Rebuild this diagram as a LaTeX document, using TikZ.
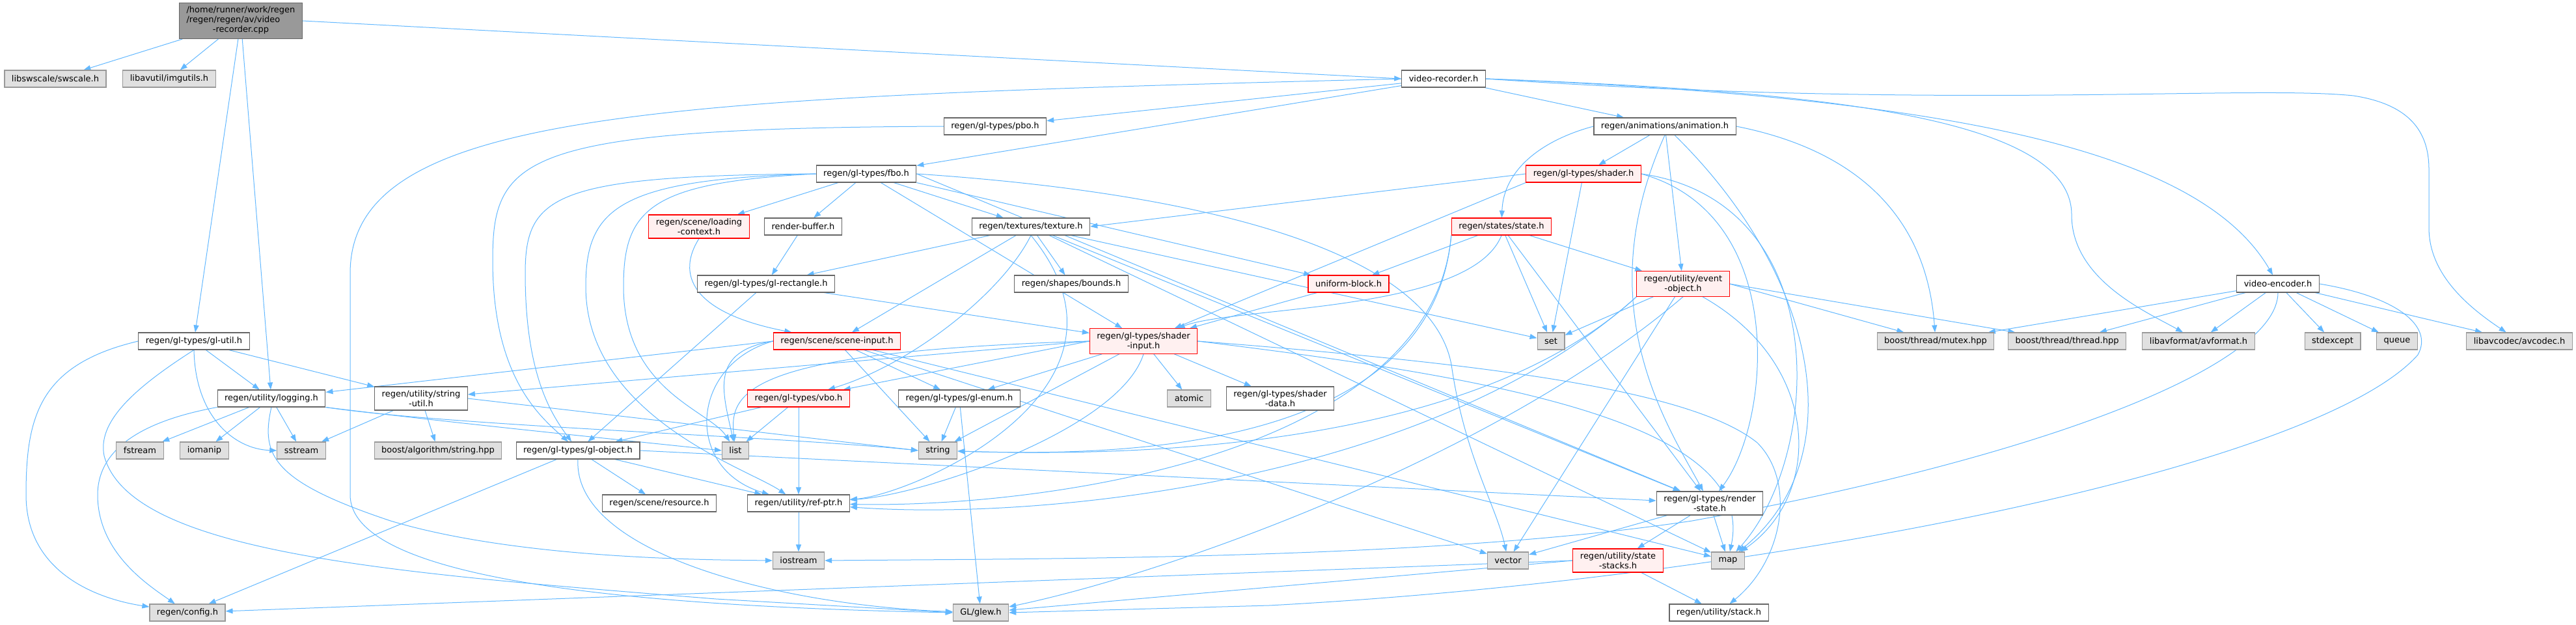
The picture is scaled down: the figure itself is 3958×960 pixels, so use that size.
\documentclass[tikz,border=0pt]{standalone}
\usepackage{fontspec}
\setmainfont{DejaVu Sans}
\usetikzlibrary{arrows.meta,backgrounds}
\definecolor{edgeblue}{HTML}{63B8FF}
\definecolor{docgray}{HTML}{666666}
\definecolor{extgray}{HTML}{999999}
\definecolor{extfill}{HTML}{E0E0E0}
\definecolor{truncfill}{HTML}{FFF0F0}
\definecolor{mainfill}{HTML}{999999}
\tikzset{
  filebox/.style={draw=docgray, fill=white, line width=1.1pt, inner xsep=11pt, inner ysep=5.5pt,
    minimum height=26pt, align=center, text=black, font=\fontsize{13}{15}\selectfont},
  hdr/.style={filebox},
  ext/.style={filebox, draw=extgray, fill=extfill},
  trunc/.style={filebox, draw=red, fill=truncfill},
  mainfile/.style={filebox, fill=mainfill, inner ysep=5pt},
  dep/.style={draw=edgeblue, line width=1pt, -{Triangle[length=11pt,width=8pt]}},
}
\begin{document}
\begin{tikzpicture}[x=1pt,y=-1pt]
\useasboundingbox (0,0) rectangle (3958,960);

% row 0 and 1
\node[mainfile] (main) at (370,32) {\begin{tabular}{@{}l@{}}/home/runner/work/regen\\/regen/regen/av/video\\\multicolumn{1}{@{}c@{}}{-recorder.cpp}\end{tabular}};
\node[ext] (swscale) at (85,121) {libswscale/swscale.h};
\node[ext] (imgutils) at (260,121) {libavutil/imgutils.h};
\node[hdr] (vrec) at (2218,121) {video-recorder.h};

% rows 2 to 5
\node[hdr] (pbo) at (1529,194) {regen/gl-types/pbo.h};
\node[hdr] (anim) at (2558,194) {regen/animations/animation.h};
\node[hdr] (fbo) at (1331,267) {regen/gl-types/fbo.h};
\node[trunc] (shader) at (2433,267) {regen/gl-types/shader.h};
\node[trunc] (loadctx) at (1074,348) {regen/scene/loading\\-context.h};
\node[hdr] (renderbuf) at (1234,348) {render-buffer.h};
\node[hdr] (texture) at (1584,348) {regen/textures/texture.h};
\node[trunc] (state) at (2307,348) {regen/states/state.h};
\node[hdr] (glrect) at (1177,436) {regen/gl-types/gl-rectangle.h};
\node[hdr] (bounds) at (1646,436) {regen/shapes/bounds.h};
\node[trunc] (uniblock) at (2072,436) {uniform-block.h};
\node[trunc] (eventobj) at (2586,436) {regen/utility/event\\-object.h};
\node[hdr] (venc) at (3500,436) {video-encoder.h};

% row 6
\node[hdr] (glutil) at (298,524) {regen/gl-types/gl-util.h};
\node[trunc] (sceneinput) at (1286,524) {regen/scene/scene-input.h};
\node[trunc] (shaderinput) at (1757,524) {regen/gl-types/shader\\-input.h};
\node[ext] (set) at (2383,524) {set};
\node[ext] (mutex) at (2974,524) {boost/thread/mutex.hpp};
\node[ext] (thread) at (3176,524) {boost/thread/thread.hpp};
\node[ext] (avformat) at (3378,524) {libavformat/avformat.h};
\node[ext] (stdexcept) at (3584,524) {stdexcept};
\node[ext] (queue) at (3683,524) {queue};
\node[ext] (avcodec) at (3871,524) {libavcodec/avcodec.h};

% rows 7 and 8
\node[hdr] (logging) at (417,612) {regen/utility/logging.h};
\node[hdr] (strutil) at (647,612) {regen/utility/string\\-util.h};
\node[trunc] (vbo) at (1227,612) {regen/gl-types/vbo.h};
\node[hdr] (glenum) at (1474,612) {regen/gl-types/gl-enum.h};
\node[ext] (atomic) at (1827,612) {atomic};
\node[hdr] (shaderdata) at (1967,612) {regen/gl-types/shader\\-data.h};
\node[ext] (fstream) at (215,692) {fstream};
\node[ext] (iomanip) at (314,692) {iomanip};
\node[ext] (sstream) at (463,692) {sstream};
\node[ext] (boostalg) at (673,692) {boost/algorithm/string.hpp};
\node[hdr] (globj) at (888,692) {regen/gl-types/gl-object.h};
\node[ext] (list) at (1130,692) {list};
\node[ext] (string) at (1441,692) {string};

% rows 9 to 11
\node[hdr] (resource) at (1013,773) {regen/scene/resource.h};
\node[hdr] (refptr) at (1227,773) {regen/utility/ref-ptr.h};
\node[hdr] (renderstate) at (2627,773) {regen/gl-types/render\\-state.h};
\node[ext] (iostream) at (1227,861) {iostream};
\node[ext] (vector) at (2317,861) {vector};
\node[trunc] (statestacks) at (2486,861) {regen/utility/state\\-stacks.h};
\node[ext] (map) at (2655,861) {map};
\node[ext] (config) at (288,941) {regen/config.h};
\node[ext] (glew) at (1507,941) {GL/glew.h};
\node[hdr] (stack) at (2641,941) {regen/utility/stack.h};

\begin{scope}[on background layer]
% video-recorder.cpp
\foreach \dst in {swscale,imgutils,glutil,logging} \draw[dep] (main) -- (\dst);
\draw[dep] (main.east) -- (vrec.west);

% video-recorder.h
\foreach \dst in {pbo,fbo,anim} \draw[dep] (vrec) -- (\dst);
\draw[dep] (vrec.west) .. controls (1000,150) and (538,170) .. (538,420) -- (538,760) .. controls (538,880) and (900,930) .. (glew.west);
\draw[dep] (vrec.east) .. controls (2800,140) and (3183,180) .. (3183,330) .. controls (3183,430) and (3300,480) .. (avformat);
\draw[dep] (vrec.east) .. controls (3000,150) and (3380,230) .. (venc);
\draw[dep] (vrec.east) .. controls (3000,170) and (3450,130) .. (3616,147) .. controls (3700,160) and (3732,200) .. (3732,260) -- (3732,350) .. controls (3732,420) and (3790,470) .. (avcodec);

% video-encoder.h
\foreach \dst in {mutex,thread,avformat,stdexcept,queue,avcodec} \draw[dep] (venc) -- (\dst);
\draw[dep] (venc.south) .. controls (3500,560) and (3150,700) .. (2600,800) .. controls (2200,860) and (1600,858) .. (iostream.east);
\draw[dep] (venc.east) .. controls (3680,455) and (3740,500) .. (3715,545) .. controls (3560,720) and (2700,890) .. (1950,930) -- (glew.east);

% gl-util.h, logging.h, string-util.h
\draw[dep] (glutil) -- (logging);
\draw[dep] (glutil) -- (strutil);
\draw[dep] (glutil.south) .. controls (300,640) and (360,690) .. (sstream.west);
\draw[dep] (glutil.west) .. controls (60,560) and (40,640) .. (40,760) .. controls (40,880) and (150,920) .. (config);
\draw[dep] (glutil.south) .. controls (200,600) and (150,650) .. (160,700) .. controls (200,850) and (600,880) .. (1100,920) -- (glew.west);
\foreach \dst in {fstream,iomanip,sstream} \draw[dep] (logging) -- (\dst);
\draw[dep] (logging.south west) .. controls (200,650) and (150,700) .. (150,760) .. controls (150,850) and (230,900) .. (config);
\draw[dep] (logging.south) .. controls (400,700) and (420,740) .. (600,800) .. controls (800,860) and (1100,860) .. (iostream.west);
\draw[dep] (logging.south east) .. controls (700,650) and (900,670) .. (list.west);
\draw[dep] (logging.south east) .. controls (700,655) and (1200,670) .. (string.west);
\draw[dep] (strutil) -- (sstream);
\draw[dep] (strutil) -- (boostalg);
\draw[dep] (strutil.east) -- (string.west);

% pbo.h, fbo.h
\draw[dep] (pbo.west) .. controls (800,197) and (757,240) .. (757,400) .. controls (757,580) and (830,640) .. (globj);
\foreach \dst in {loadctx,renderbuf,texture,shaderinput} \draw[dep] (fbo) -- (\dst);
\draw[dep] (fbo.south east) -- (uniblock);
\draw[dep] (fbo.east) -- (renderstate);
\draw[dep] (fbo.west) .. controls (850,270) and (807,300) .. (807,420) .. controls (807,580) and (850,640) .. (globj);
\draw[dep] (fbo.west) .. controls (950,275) and (900,320) .. (900,440) .. controls (900,640) and (1150,720) .. (refptr);
\draw[dep] (fbo.west) .. controls (1000,280) and (958,320) .. (958,440) .. controls (958,600) and (1090,630) .. (list);
\draw[dep] (fbo.east) .. controls (1900,300) and (2200,400) .. (2230,560) .. controls (2250,700) and (2300,780) .. (vector);

% animation.h, shader.h, state.h
\draw[dep] (anim) -- (shader);
\draw[dep] (anim) -- (eventobj);
\draw[dep] (anim.west) .. controls (2370,215) and (2310,260) .. (state);
\draw[dep] (anim.east) .. controls (2850,230) and (2960,330) .. (mutex);
\draw[dep] (anim.south) .. controls (2440,470) and (2560,650) .. (renderstate);
\draw[dep] ([xshift=15pt]anim.south) .. controls (2790,420) and (2850,700) .. (map);
\draw[dep] (shader.west) -- (texture.east);
\draw[dep] (shader.south west) -- (shaderinput);
\draw[dep] (shader) -- (set);
\draw[dep] (shader.east) .. controls (2750,330) and (2720,650) .. (renderstate);
\draw[dep] (shader.east) .. controls (2820,310) and (2800,700) .. (map);
\foreach \dst in {uniblock,eventobj,set,renderstate} \draw[dep] (state) -- (\dst);
\draw[dep] (state.south) .. controls (2260,480) and (1900,470) .. (shaderinput);
\draw[dep] (state.south west) .. controls (2200,700) and (1600,780) .. (refptr);
\draw[dep] (state.south west) .. controls (2200,700) and (1700,700) .. (string);

% loading-context.h, render-buffer.h, texture.h
\draw[dep] (loadctx.south) .. controls (1040,420) and (1060,480) .. (sceneinput);
\draw[dep] (renderbuf) -- (glrect);
\foreach \dst in {glrect,bounds,sceneinput,renderstate,set,map} \draw[dep] (texture) -- (\dst);
\draw[dep] (texture.south) .. controls (1540,450) and (1400,560) .. (vbo);
\draw[dep] (texture.south) .. controls (1780,600) and (1400,760) .. (refptr);

% gl-rectangle.h, uniform-block.h, event-object.h
\draw[dep] (glrect) -- (globj);
\draw[dep] (glrect) -- (shaderinput);
\draw[dep] (uniblock) -- (shaderinput);
\draw[dep] (eventobj.east) -- (mutex);
\draw[dep] (eventobj.east) -- (thread);
\draw[dep] (eventobj) -- (set);
\draw[dep] (eventobj) -- (vector);
\draw[dep] ([xshift=30pt]eventobj.south) .. controls (2800,560) and (2800,760) .. (map);
\draw[dep] (eventobj.south west) .. controls (2250,700) and (1700,700) .. (string);
\draw[dep] (eventobj.south west) .. controls (2200,740) and (1600,800) .. (refptr);
\draw[dep] (eventobj.south) .. controls (2300,700) and (1800,880) .. (glew);

% scene-input.h, shader-input.h
\draw[dep] (sceneinput.west) -- (logging);
\draw[dep] (sceneinput.west) .. controls (1090,540) and (1110,600) .. (list);
\draw[dep] (sceneinput.west) .. controls (1060,560) and (1050,720) .. (refptr);
\foreach \dst in {string,glenum,map,vector} \draw[dep] (sceneinput) -- (\dst);
\foreach \dst in {glenum,shaderdata,atomic,string} \draw[dep] (shaderinput) -- (\dst);
\draw[dep] (shaderinput.west) -- (vbo);
\draw[dep] (shaderinput.west) -- (strutil);
\draw[dep] (shaderinput.west) .. controls (1150,540) and (1120,600) .. (list);
\draw[dep] (shaderinput.south) .. controls (1720,660) and (1420,760) .. (refptr);
\draw[dep] (shaderinput.east) .. controls (2300,580) and (2700,650) .. (map);
\draw[dep] (shaderinput.east) .. controls (2300,560) and (2600,600) .. (2700,680) .. controls (2760,740) and (2740,860) .. (stack);

% vbo.h, gl-enum.h, gl-object.h, ref-ptr.h
\draw[dep] (vbo) -- (globj);
\draw[dep] (vbo) -- (list);
\draw[dep] (vbo) -- (refptr);
\draw[dep] (glenum) -- (string);
\draw[dep] (glenum) -- (glew);
\foreach \dst in {resource,refptr,config} \draw[dep] (globj) -- (\dst);
\draw[dep] (globj.east) -- (renderstate);
\draw[dep] (globj.south) .. controls (880,850) and (1200,930) .. (glew);
\draw[dep] (refptr) -- (iostream);

% render-state.h, state-stacks.h
\foreach \dst in {statestacks,vector,map} \draw[dep] (renderstate) -- (\dst);
\draw[dep] (statestacks) -- (stack);
\draw[dep] (statestacks.west) -- (glew);
\draw[dep] (statestacks.west) -- (config);
\end{scope}
\end{tikzpicture}
\end{document}
